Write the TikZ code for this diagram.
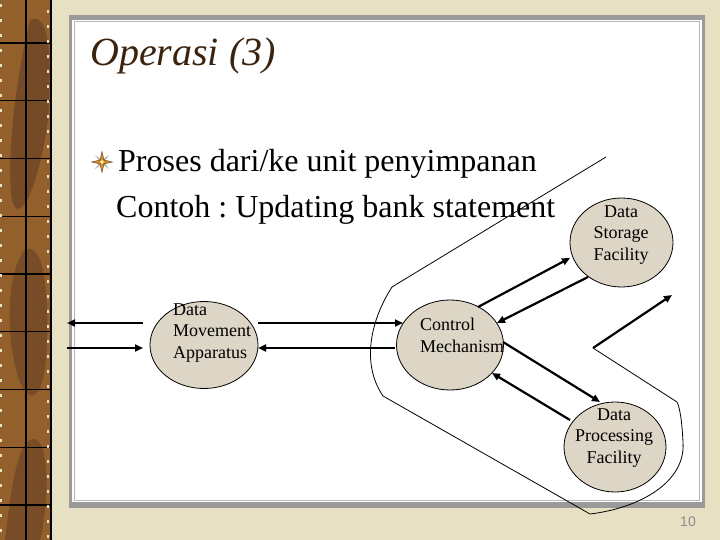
\documentclass[tikz,border=0pt]{standalone}
\usepackage{fontspec}
\setmainfont{Liberation Serif}
\newfontfamily\pnfont{Liberation Sans}
\usetikzlibrary{arrows.meta,shapes.geometric}
\definecolor{bgbeige}{HTML}{E7E0C3}
\definecolor{stripbrown}{HTML}{93602C}
\definecolor{stripdark}{HTML}{5C3A22}
\definecolor{framegray}{HTML}{9A9A9A}
\definecolor{bubblefill}{HTML}{DDD6C7}
\definecolor{titlebrown}{HTML}{3A2410}
\definecolor{iconorange}{HTML}{D9892A}
\frenchspacing
\begin{document}
\begin{tikzpicture}[x=1pt,y=-1pt,
  bubble/.style={ellipse, draw=black, line width=0.8pt, fill=bubblefill, inner sep=0pt, outer sep=0pt},
  lbl/.style={font=\fontsize{18}{21.5}\selectfont, inner sep=0pt},
  bigtxt/.style={font=\fontsize{32}{36}\selectfont, inner sep=0pt, anchor=base west},
  flow/.style={line width=2.2pt, -{Triangle[length=8pt,width=7pt]}},
  outline/.style={line width=0.8pt, line join=round},
]
\useasboundingbox (0,0) rectangle (720,540);
% background
\fill[bgbeige] (0,0) rectangle (720,540);
% left strip
\fill[stripbrown] (0,0) rectangle (51,540);
\fill[stripdark, opacity=0.55] (30,20) .. controls (50,10) and (52,60) .. (48,120) .. controls (40,180) and (20,230) .. (12,200) .. controls (5,150) and (20,60) .. cycle;
\fill[stripdark, opacity=0.5] (25,250) .. controls (45,240) and (50,300) .. (46,360) .. controls (40,420) and (15,400) .. (10,330) .. controls (8,290) and (15,260) .. cycle;
\fill[stripdark, opacity=0.5] (30,440) .. controls (50,430) and (50,500) .. (40,540) -- (5,540) .. controls (10,500) and (15,450) .. cycle;
\draw[black, line width=1.1pt] (26,0) -- (26,540);
\foreach \k in {0,...,8} { \draw[black, line width=1.1pt] (0,43+57.75*\k) -- (51,43+57.75*\k); }
\draw[bgbeige, line width=2pt, dash pattern=on 3pt off 12pt] (1.2,4) -- (1.2,540);
\draw[bgbeige, line width=1.5pt, dash pattern=on 3pt off 12pt] (48,10) -- (48,540);
\draw[black, line width=2.5pt] (51,0) -- (51,540);
% panel
\fill[framegray] (69,15) rectangle (705,508);
\fill[white] (72,20) rectangle (702,502);
\draw[framegray!70, line width=1pt] (74.5,21.5) rectangle (699.5,500.5);
% title
\node[font=\fontsize{40}{44}\selectfont\itshape, text=titlebrown, inner sep=0pt, anchor=base west] (title) at (90,66) {Operasi (3)};
% bullet icon
\fill[gray!70] (95,155) -- (102,160.3) -- (109,155) -- (103.7,162) -- (109,169) -- (102,163.7) -- (95,169) -- (100.3,162) -- cycle;
\fill[iconorange, draw=stripdark, line width=0.4pt] (102,151.5) -- (104,160) -- (112.5,162) -- (104,164) -- (102,172.5) -- (100,164) -- (91.5,162) -- (100,160) -- cycle;
\fill[yellow!40] (102,162) circle (1.8);
% bullet text
\node[bigtxt] (line1) at (118,172) {Proses dari/ke unit penyimpanan};
\node[bigtxt] (line2) at (116,218) {Contoh : Updating bank statement};
% bubbles
\node[bubble, minimum width=108pt, minimum height=87pt] (dma) at (204,345) {};
\node[bubble, minimum width=107pt, minimum height=90pt] (cm) at (450,345) {};
\node[bubble, minimum width=103pt, minimum height=89pt] (dsf) at (621.5,242.5) {};
\node[bubble, minimum width=102pt, minimum height=90pt] (dpf) at (615,447) {};
% labels (base anchor = baseline of last line)
\node[lbl, anchor=base west, align=left] (dmat) at (173,358) {Data\\Movement\\Apparatus};
\node[lbl, anchor=base west, align=left] (cmt) at (420,352) {Control\\Mechanism};
\node[lbl, anchor=base, align=center] (dsft) at (621,260) {Data\\Storage\\Facility};
\node[lbl, anchor=base, align=center] (dpft) at (614,463) {Data\\Processing\\Facility};
% connector end points
\coordinate (extA) at (67,323);
\coordinate (extB) at (67,348);
\coordinate (dmaW1) at (143,323);
\coordinate (dmaW2) at (143,348);
\coordinate (dmaE1) at (258,323);
\coordinate (dmaE2) at (258,348);
\coordinate (cmW1) at (403,323);
\coordinate (cmW2) at (395,348);
\coordinate (cmNE1) at (478,307);
\coordinate (cmNE2) at (497,323);
\coordinate (dsfW1) at (570,258);
\coordinate (dsfW2) at (588,277);
\coordinate (cmSE1) at (503,342);
\coordinate (cmSE2) at (492,373);
\coordinate (dpfN1) at (600,402);
\coordinate (dpfN2) at (570,420);
\coordinate (outS) at (593,348);
\coordinate (outE) at (672,295);
% arrows
\draw[flow] (dmaW1) -- (extA);
\draw[flow] (extB) -- (dmaW2);
\draw[flow] (dmaE1) -- (cmW1);
\draw[flow] (cmW2) -- (dmaE2);
\draw[flow] (cmNE1) -- (dsfW1);
\draw[flow] (dsfW2) -- (cmNE2);
\draw[flow] (cmSE1) -- (dpfN1);
\draw[flow] (dpfN2) -- (cmSE2);
\draw[flow] (outS) -- (outE);
% boundary outline
\draw[outline] (606,157) -- (392,287) .. controls (372,318) and (360,362) .. (383,396) -- (590,514) .. controls (640,508) and (686,482) .. (683,442) .. controls (682,422) and (680,408) .. (677,402) -- (outS);
% page number
\node[font=\pnfont\fontsize{14}{16}\selectfont, text=gray!90, inner sep=0pt] (pnum) at (688,522) {10};
\end{tikzpicture}
\end{document}
